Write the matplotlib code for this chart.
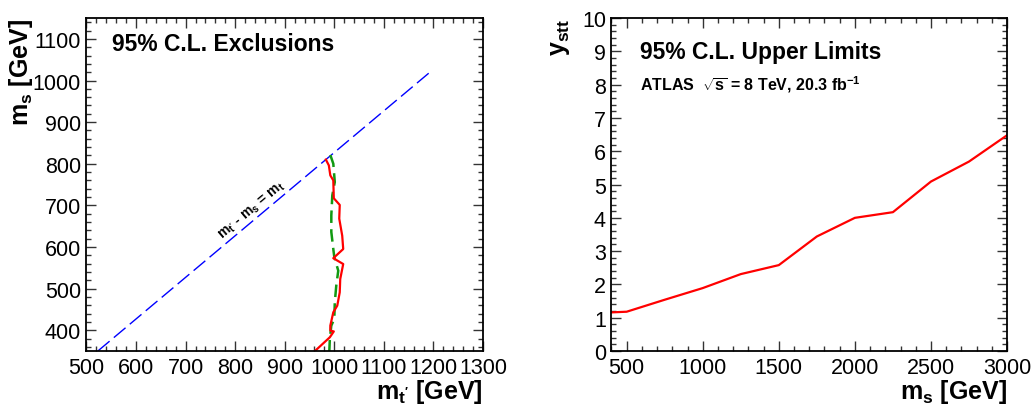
"""
Exclusion contours and upper limits on y_stt (ATLAS-style ROOT look).
"""

import matplotlib

matplotlib.use("Agg")
from matplotlib import pyplot as plt
from matplotlib.ticker import MultipleLocator

# Left panel: exclusion contours in the (m_t', m_s) plane
red_mt = [983, 989, 992, 998, 999, 1011, 1010, 1016, 1018, 998, 1018,
          1012, 1011, 1006, 998, 992, 992, 999, 991, 961]
red_ms = [810, 796, 772, 760, 717, 701, 668, 627, 595, 573, 559,
          523, 491, 459, 443, 411, 399, 397, 383, 350]
green_mt = [992, 998, 1001, 996, 994, 994, 998, 1000, 1008, 1004, 1001,
            1000, 994, 991, 990]
green_ms = [821, 800, 756, 724, 676, 636, 595, 576, 543, 507, 467,
            427, 411, 379, 350]
kin_mt = [523, 1198]
kin_ms = [350, 1025]

# Right panel: upper limit on y_stt versus m_s
limit_ms = [400, 500, 750, 1000, 1250, 1500, 1750, 2000, 2250, 2500, 2750, 3000]
limit_y = [1.16, 1.18, 1.54, 1.89, 2.31, 2.58, 3.44, 4.0, 4.17, 5.09, 5.69, 6.48]

plt.rcParams.update({
    "font.family": ["Liberation Sans", "DejaVu Sans"],
    "mathtext.fontset": "custom",
    "mathtext.rm": "Liberation Sans:bold",
    "mathtext.it": "Liberation Sans:bold",
    "mathtext.bf": "Liberation Sans:bold",
    "mathtext.sf": "Liberation Sans:bold",
    "mathtext.default": "bf",
    "font.size": 15.5,
})


def root_style(ax, xmaj, xmin, ymaj, ymin):
    """ROOT-like frame: ticks inside on all four sides"""
    for s in ax.spines.values():
        s.set_linewidth(1.3)
    ax.xaxis.set_major_locator(MultipleLocator(xmaj))
    ax.xaxis.set_minor_locator(MultipleLocator(xmin))
    ax.yaxis.set_major_locator(MultipleLocator(ymaj))
    ax.yaxis.set_minor_locator(MultipleLocator(ymin))
    ax.tick_params(which="both", direction="in", top=True, right=True,
                   width=1.0, color="#333333")
    ax.tick_params(which="major", length=7, labelsize=15.5)
    ax.tick_params(axis="x", which="major", pad=4)
    ax.tick_params(axis="y", which="major", pad=4)
    ax.tick_params(which="minor", length=3.5)


fig = plt.figure(figsize=(10.32, 4.06), dpi=100)
ax1 = fig.add_axes([0.0838, 0.133, 0.3842, 0.820])
ax2 = fig.add_axes([0.5925, 0.133, 0.3833, 0.820])

# Left panel
ax1.plot(kin_mt, kin_ms, color="#0000ff", lw=1.0, dashes=(11, 4))
ax1.plot(green_mt, green_ms, color="#119911", lw=1.8, dashes=(5, 2.5))
ax1.plot(red_mt, red_ms, color="#ff0000", lw=1.6)
ax1.set_xlim(500, 1300)
ax1.set_ylim(350, 1150)
root_style(ax1, 100, 20, 100, 20)
ax1.text(834, 688, r"$m_{t'}$ - $m_s$ = $m_t$", fontsize=10,
         fontweight="bold", rotation=45, transform_rotates_text=True,
         rotation_mode="anchor", ha="center", va="center")
ax1.text(0.065, 0.925, "95% C.L. Exclusions", transform=ax1.transAxes,
         fontsize=16.5, fontweight="bold", va="center")
ax1.set_xlabel(r"$m_{t'}$ [GeV]", loc="right", fontsize=18, fontweight="bold")
ax1.xaxis.set_label_coords(1.0, -0.078)
ax1.set_ylabel(r"$m_s$ [GeV]", loc="top", fontsize=18, fontweight="bold")
ax1.yaxis.set_label_coords(-0.13, 1.0)

# Right panel
ax2.plot(limit_ms, limit_y, color="#ff0000", lw=1.6)
ax2.set_xlim(400, 3000)
ax2.set_ylim(0, 10)
root_style(ax2, 500, 100, 1, 0.2)
ax2.text(0.073, 0.9, "95% C.L. Upper Limits", transform=ax2.transAxes,
         fontsize=16.5, fontweight="bold", va="center")
ax2.text(0.073, 0.802, r"ATLAS  $\sqrt{s}$ = 8 TeV, 20.3 fb$^{-1}$",
         transform=ax2.transAxes, fontsize=11.5, fontweight="bold",
         va="center")
ax2.set_xlabel(r"$m_s$ [GeV]", loc="right", fontsize=18, fontweight="bold")
ax2.xaxis.set_label_coords(1.0, -0.078)
ax2.set_ylabel(r"$y_{stt}$", loc="top", fontsize=18, fontweight="bold")
ax2.yaxis.set_label_coords(-0.10, 1.0)

fig.savefig("out.png", dpi=100)
